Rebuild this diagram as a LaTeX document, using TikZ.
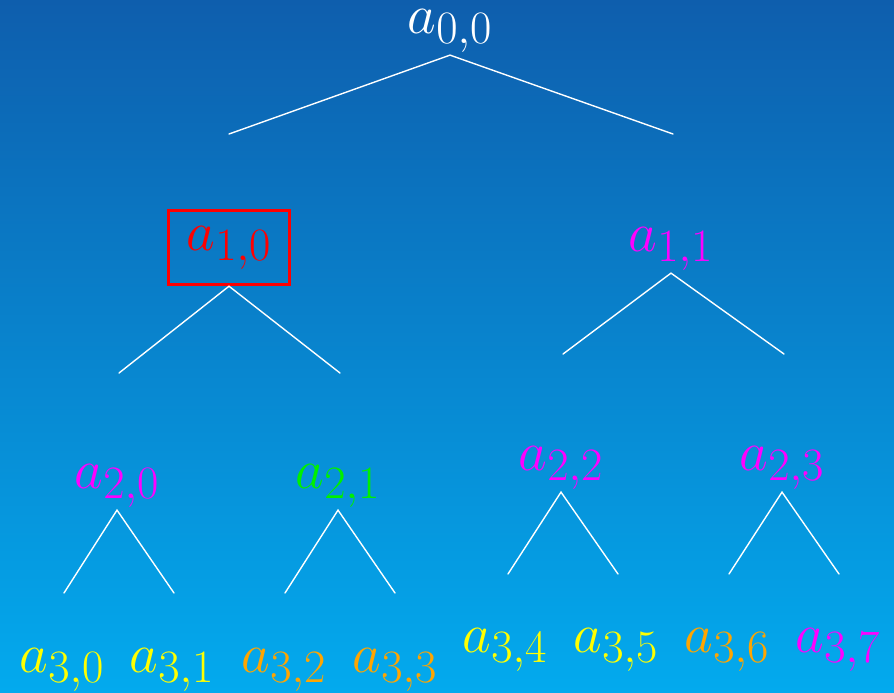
\RequirePackage{fix-cm}
\documentclass[tikz,border=0pt]{standalone}
\usepackage{amsmath,amssymb}
\usepackage{tikz}
\usetikzlibrary{calc,arrows.meta,positioning}
\DeclareMathSizes{27.9}{27.9}{23.2}{19.3}
\definecolor{fondoA}{HTML}{0E5EAD}
\definecolor{fondoB}{HTML}{03AAEE}
\definecolor{rojo}{HTML}{FF0000}
\definecolor{magenta}{HTML}{FF00FF}
\definecolor{verde}{HTML}{00F000}
\definecolor{amarillo}{HTML}{FFFF00}
\definecolor{naranja}{HTML}{FFA500}

\begin{document}
\begin{tikzpicture}[x=0.5pt,y=-0.5pt,line cap=round,
    term/.style={font=\fontsize{27.9}{33}\selectfont,inner sep=1pt,anchor=base},
    rama/.style={white,line width=0.7pt}]
  % fondo
  \shade[top color=fondoA,bottom color=fondoB] (0,0) rectangle (894,692);
  \useasboundingbox (0,0) rectangle (894,692);
  % nivel 0
  \node[term,white] (a00) at (450,33) {$a_{0,0}$};
  \coordinate (e00l) at (229,134);
  \coordinate (e00r) at (673,134);
  \draw[rama] (e00l) -- (a00.south) -- (e00r);
  % nivel 1
  \node[term,rojo,draw=rojo,line width=1.5pt,inner xsep=9pt,inner ysep=7.5pt]
        (a10) at (229,250) {$a_{1,0}$};
  \node[term,magenta] (a11) at (671,251) {$a_{1,1}$};
  \coordinate (e10l) at (119,373);
  \coordinate (e10r) at (340,373);
  \coordinate (e11l) at (563,354);
  \coordinate (e11r) at (784,354);
  \draw[rama] (e10l) -- (a10.south) -- (e10r);
  \draw[rama] (e11l) -- (a11.south) -- (e11r);
  % nivel 2
  \node[term,magenta] (a20) at (117,488) {$a_{2,0}$};
  \node[term,verde]   (a21) at (338,488) {$a_{2,1}$};
  \node[term,magenta] (a22) at (561,470) {$a_{2,2}$};
  \node[term,magenta] (a23) at (782,470) {$a_{2,3}$};
  \coordinate (e20l) at (64,593);
  \coordinate (e20r) at (174,593);
  \coordinate (e21l) at (285,593);
  \coordinate (e21r) at (395,593);
  \coordinate (e22l) at (508,574);
  \coordinate (e22r) at (618,574);
  \coordinate (e23l) at (729,574);
  \coordinate (e23r) at (839,574);
  \draw[rama] (e20l) -- (a20.south) -- (e20r);
  \draw[rama] (e21l) -- (a21.south) -- (e21r);
  \draw[rama] (e22l) -- (a22.south) -- (e22r);
  \draw[rama] (e23l) -- (a23.south) -- (e23r);
  % nivel 3
  \foreach \i/\x/\y/\c in {0/62/672/amarillo,1/172/672/amarillo,
                           2/284/672/naranja,3/395/672/naranja,
                           4/505/652/amarillo,5/616/652/amarillo,
                           6/727/652/naranja,7/838/652/magenta}{
    \node[term,\c] (a3\i) at (\x,\y) {$a_{3,\i}$};
  }
\end{tikzpicture}
\end{document}
